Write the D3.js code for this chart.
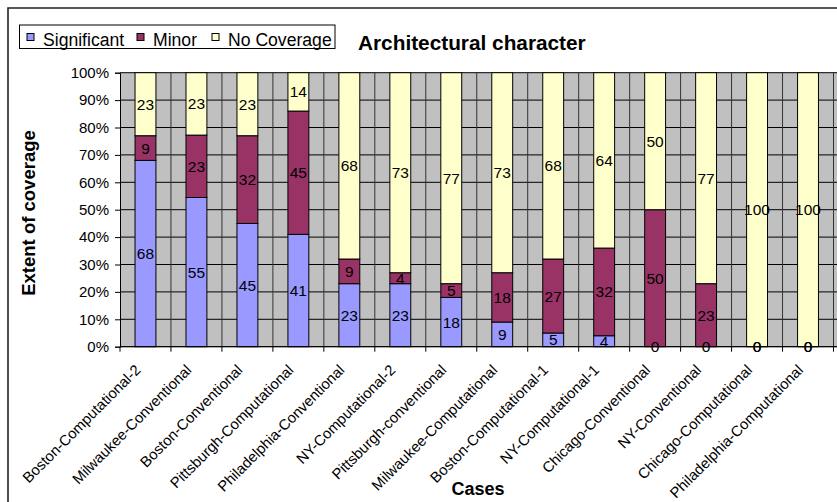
<!DOCTYPE html>
<html>
<head>
<meta charset="utf-8">
<script src="https://cdn.jsdelivr.net/npm/d3@7"></script>
<style>
  html, body { margin: 0; padding: 0; background: #fff; }
  svg { display: block; font-family: "Liberation Sans", Arial, sans-serif; }
</style>
</head>
<body>
<svg id="chart" width="837" height="502"></svg>
<script>
// Cases in display order
const cases = [
  "Boston-Computational-2", "Milwaukee-Conventional", "Boston-Conventional",
  "Pittsburgh-Computational", "Philadelphia-Conventional", "NY-Computational-2",
  "Pittsburgh-conventional", "Milwaukee-Computational", "Boston-Computational-1",
  "NY-Computational-1", "Chicago-Conventional", "NY-Conventional",
  "Chicago-Computational", "Philadelphia-Computational"
];
const seriesNames = ["Significant", "Minor", "No Coverage"];
const significant = [68, 55, 45, 41, 23, 23, 18, 9, 5, 4, 0, 0, 0, 0];
const minor       = [9, 23, 32, 45, 9, 4, 5, 18, 27, 32, 50, 23, 0, 0];
const noCoverage  = [23, 23, 23, 14, 68, 73, 77, 73, 68, 64, 50, 77, 100, 100];
const yTicks = [0, 0.1, 0.2, 0.3, 0.4, 0.5, 0.6, 0.7, 0.8, 0.9, 1];
const colors = ["#9999FF", "#993366", "#FFFFCC"];

const rows = cases.map((c, i) => ({
  name: c,
  "Significant": significant[i],
  "Minor": minor[i],
  "No Coverage": noCoverage[i]
}));

const svg = d3.select("#chart");
const plot = { left: 120, right: 833.5, top: 72.7, bottom: 346.7 };

// Outer chart frame (left and top edges)
svg.append("path")
  .attr("d", "M8,510 L8,8 L840,8")
  .attr("fill", "none").attr("stroke", "#222").attr("stroke-width", 1.6);

const x = d3.scaleBand().domain(cases).range([plot.left, plot.right]).padding(0);
const y = d3.scaleLinear().domain([0, 1]).range([plot.bottom, plot.top]);
const barW = x.bandwidth() * 0.41;

// 100% stacked layout
const stacked = d3.stack().keys(seriesNames).offset(d3.stackOffsetExpand)(rows);

// Plot background
svg.append("rect")
  .attr("x", plot.left).attr("y", plot.top)
  .attr("width", 837 - plot.left).attr("height", plot.bottom - plot.top)
  .attr("fill", "#C0C0C0");

// Horizontal gridlines
svg.append("g").selectAll("line").data(yTicks).join("line")
  .attr("x1", plot.left).attr("x2", 837)
  .attr("y1", d => y(d)).attr("y2", d => y(d))
  .attr("stroke", "#000").attr("stroke-width", 1);

// Vertical gridlines at category boundaries
const bounds = cases.map(c => x(c)).concat([plot.right]);
svg.append("g").selectAll("line").data(bounds.slice(1)).join("line")
  .attr("x1", d => d).attr("x2", d => d)
  .attr("y1", plot.top).attr("y2", plot.bottom)
  .attr("stroke", "#333").attr("stroke-width", 1);

// Bars
const layers = svg.append("g").selectAll("g").data(stacked).join("g")
  .attr("fill", (d, i) => colors[i]);
layers.selectAll("rect").data(d => d).join("rect")
  .attr("x", d => x(d.data.name) + (x.bandwidth() - barW) / 2)
  .attr("y", d => y(d[1]))
  .attr("width", barW)
  .attr("height", d => y(d[0]) - y(d[1]))
  .attr("stroke", "#000").attr("stroke-width", 1);

// Value labels
stacked.forEach((layer, si) => {
  svg.append("g").selectAll("text").data(layer).join("text")
    .attr("x", d => x(d.data.name) + x.bandwidth() / 2)
    .attr("y", d => (y(d[0]) + y(d[1])) / 2)
    .attr("dy", "0.36em")
    .attr("text-anchor", "middle")
    .attr("font-size", 15.5)
    .attr("fill", "#000")
    .text(d => d.data[seriesNames[si]]);
});

// Y axis
const yAxis = d3.axisLeft(y).tickValues(yTicks).tickFormat(d3.format(".0%")).tickSize(5).tickPadding(6);
const yg = svg.append("g").attr("transform", `translate(${plot.left},0)`).call(yAxis);
yg.select(".domain").attr("stroke", "#000");
yg.selectAll(".tick line").attr("stroke", "#000");
yg.selectAll(".tick text").attr("font-size", 15).attr("font-family", "Liberation Sans, Arial, sans-serif").attr("fill", "#000");

// X axis line and ticks at boundaries
svg.append("line")
  .attr("x1", plot.left).attr("x2", 837)
  .attr("y1", plot.bottom).attr("y2", plot.bottom)
  .attr("stroke", "#000");
svg.append("g").selectAll("line").data(bounds).join("line")
  .attr("x1", d => d).attr("x2", d => d)
  .attr("y1", plot.bottom).attr("y2", plot.bottom + 5)
  .attr("stroke", "#000");

// Category labels, rotated
svg.append("g").selectAll("text").data(cases).join("text")
  .attr("transform", d => `translate(${x(d) + x.bandwidth() / 2 - 4},371) rotate(-45)`)
  .attr("text-anchor", "end")
  .attr("font-size", 14.8)
  .attr("fill", "#000")
  .text(d => d);

// Axis titles
svg.append("text")
  .attr("transform", "translate(34.5,213) rotate(-90)")
  .attr("text-anchor", "middle")
  .attr("font-size", 18.5).attr("font-weight", "bold")
  .text("Extent of coverage");
svg.append("text")
  .attr("x", 478).attr("y", 495)
  .attr("text-anchor", "middle")
  .attr("font-size", 18).attr("font-weight", "bold")
  .text("Cases");

// Chart title
svg.append("text")
  .attr("x", 358).attr("y", 50)
  .attr("font-size", 20.8).attr("font-weight", "bold")
  .text("Architectural character");

// Legend
const legend = svg.append("g");
legend.append("rect")
  .attr("x", 19.5).attr("y", 25).attr("width", 315.5).attr("height", 23.5)
  .attr("fill", "#fff").attr("stroke", "#000");
const legendX = [27, 137, 212];
seriesNames.forEach((s, i) => {
  legend.append("rect")
    .attr("x", legendX[i]).attr("y", 33.5).attr("width", 7).attr("height", 7)
    .attr("fill", colors[i]).attr("stroke", "#000");
  legend.append("text")
    .attr("x", legendX[i] + 16).attr("y", 46)
    .attr("font-size", 17.6)
    .text(s);
});
</script>
</body>
</html>
